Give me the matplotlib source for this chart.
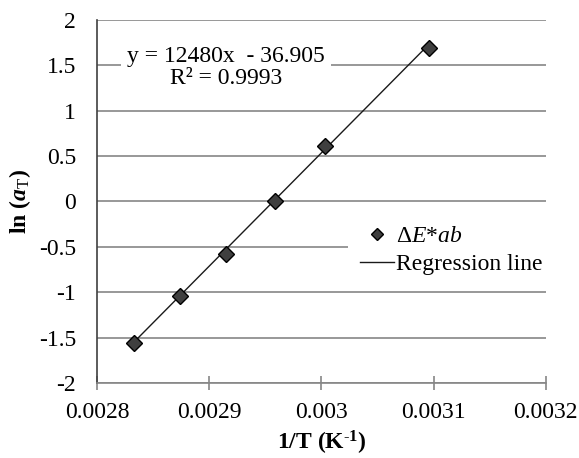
import matplotlib
matplotlib.use("Agg")
import matplotlib.pyplot as plt
from matplotlib.lines import Line2D

# Fuente tipo Times para todo el grafico
plt.rcParams['font.family'] = ['Liberation Serif', 'DejaVu Serif']
plt.rcParams['mathtext.fontset'] = 'custom'
plt.rcParams['mathtext.rm'] = 'Liberation Serif'
plt.rcParams['mathtext.it'] = 'Liberation Serif:italic'
plt.rcParams['mathtext.bf'] = 'Liberation Serif:bold'
plt.rcParams['mathtext.bfit'] = 'Liberation Serif:italic:bold'

# Datos: 1/T (K^-1) contra ln(aT)
inv_T = [0.002833, 0.002874, 0.002915, 0.002959, 0.003003, 0.003096]
ln_aT = [-1.555, -1.04, -0.58, 0.0, 0.615, 1.695]

# Recta de regresion (de la ecuacion mostrada)
pendiente = 12480
intercepto = -36.905
r2 = 0.9993

gris = '#868686'
fs = 17

fig = plt.figure(figsize=(5.79, 4.58), dpi=100)
ax = fig.add_axes([0.1675, 0.1638, 0.775, 0.7925])

ax.set_xlim(0.0028, 0.0032)
ax.set_ylim(-2, 2)
ax.set_xticks([0.0028, 0.0029, 0.003, 0.0031, 0.0032])
ax.set_xticklabels(['0.0028', '0.0029', '0.003', '0.0031', '0.0032'])
ax.set_yticks([-2, -1.5, -1, -0.5, 0, 0.5, 1, 1.5, 2])
ax.set_yticklabels(['-2', '-1.5', '-1', '-0.5', '0', '0.5', '1', '1.5', '2'])

ax.grid(axis='y', color=gris, linewidth=1.2)
ax.set_axisbelow(True)
for lado in ['top', 'right']:
    ax.spines[lado].set_visible(False)
ax.spines['bottom'].set_color(gris)
ax.spines['bottom'].set_linewidth(1.2)
ax.spines['left'].set_color('#404040')
ax.spines['left'].set_linewidth(1.2)

ax.tick_params(axis='x', direction='inout', length=10, width=1.2, color=gris,
               labelsize=fs, pad=9)
ax.tick_params(axis='y', length=0, labelsize=fs, pad=15)

# Linea de regresion sobre el rango de los datos
x_lin = [min(inv_T), max(inv_T)]
y_lin = [pendiente * x + intercepto for x in x_lin]
ax.plot(x_lin, y_lin, color='#1a1a1a', linewidth=1.0, zorder=3)

ax.plot(inv_T, ln_aT, linestyle='none', marker='D', markersize=8.5,
        markerfacecolor='#3f3f3f', markeredgecolor='black',
        markeredgewidth=1.0, zorder=4)

# Ecuacion y R2
ax.text(0.002915, 1.476, 'y = %dx  - %.3f\nR² = %.4f' % (pendiente, -intercepto, r2),
        ha='center', va='center', multialignment='center', fontsize=fs,
        linespacing=1.05,
        bbox=dict(facecolor='white', edgecolor='none', pad=4), zorder=5)

ax.set_xlabel(r'1/T (K$^{\mathbf{\text{-}1}}$)', fontsize=fs, fontweight='bold', labelpad=4)
ax.set_ylabel(r'ln ($\mathbfit{a}_\mathrm{T}$)', fontsize=fs, fontweight='bold', labelpad=4)

handles = [
    Line2D([], [], linestyle='none', marker='D', markersize=6.6,
           markerfacecolor='#3f3f3f', markeredgecolor='black'),
    Line2D([], [], color='#1a1a1a', linewidth=1.0),
]
etiquetas = [r'Δ$E$*$ab$', 'Regression line']
leg = ax.legend(handles, etiquetas, loc='center left', bbox_to_anchor=(0.559, 0.366),
                fontsize=fs, frameon=True, fancybox=False, framealpha=1,
                facecolor='white', edgecolor='none', handlelength=1.45,
                handletextpad=0.1, labelspacing=0.27, borderpad=0.5,
                borderaxespad=0)
leg.set_zorder(6)

fig.savefig('out.png', dpi=100)
